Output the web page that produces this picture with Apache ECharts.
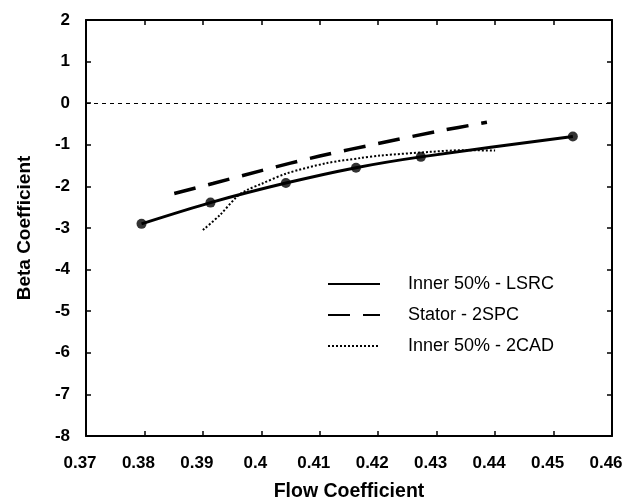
<!DOCTYPE html>
<html>
<head>
<meta charset="utf-8">
<script src="https://cdn.jsdelivr.net/npm/echarts@6/dist/echarts.min.js"></script>
<style>html,body{margin:0;padding:0;background:#fff;}#c{width:631px;height:502px;}</style>
</head>
<body>
<div id="c"></div>
<script>
const flowLSRC = [0.3795, 0.3913, 0.4042, 0.4162, 0.4273, 0.4533];
const betaLSRC = [-2.90, -2.39, -1.92, -1.55, -1.29, -0.80];
const flowStator = [0.3851, 0.3917, 0.4000, 0.4100, 0.4200, 0.4300, 0.4386];
const betaStator = [-2.17, -1.93, -1.62, -1.27, -0.97, -0.68, -0.46];
const flow2CAD = [0.3900, 0.3929, 0.3958, 0.3975, 0.4000, 0.4043, 0.4112, 0.4169, 0.4203, 0.4289, 0.4346, 0.4400];
const beta2CAD = [-3.05, -2.69, -2.25, -2.09, -1.94, -1.69, -1.44, -1.32, -1.26, -1.17, -1.13, -1.14];
const names = ['Inner 50% - LSRC', 'Stator - 2SPC', 'Inner 50% - 2CAD'];
const xTitle = 'Flow Coefficient';
const yTitle = 'Beta Coefficient';

const zip = (a, b) => a.map((v, i) => [v, b[i]]);
const font = '"Liberation Sans", Arial, sans-serif';
const axisCommon = {
  axisLine: { show: true, onZero: false, lineStyle: { color: '#000', width: 2 } },
  axisTick: { show: true, inside: true, length: 5, lineStyle: { color: '#000', width: 1.5 } },
  splitLine: { show: false }
};
const chart = echarts.init(document.getElementById('c'), null, { renderer: 'canvas' });
chart.setOption({
  backgroundColor: '#fff',
  animation: false,
  grid: { left: 86, right: 19, top: 20, bottom: 66, containLabel: false, outerBoundsMode: 'none' },
  xAxis: [
    Object.assign({
      type: 'value', min: 0.37, max: 0.46, interval: 0.01, position: 'bottom',
      name: xTitle, nameLocation: 'middle', nameGap: 46,
      nameTextStyle: { fontFamily: font, fontWeight: 'bold', fontSize: 19.5, color: '#000' },
      axisLabel: { margin: 19, fontFamily: font, fontWeight: 'bold', fontSize: 17, color: '#000',
        padding: [0, 12, 0, 0],
        formatter: v => String(+v.toFixed(2)) }
    }, axisCommon),
    Object.assign({
      type: 'value', min: 0.37, max: 0.46, interval: 0.01, position: 'top',
      axisLabel: { show: false }
    }, axisCommon)
  ],
  yAxis: [
    Object.assign({
      type: 'value', min: -8, max: 2, interval: 1, position: 'left',
      name: yTitle, nameLocation: 'middle', nameGap: 52,
      nameTextStyle: { fontFamily: font, fontWeight: 'bold', fontSize: 19, color: '#000' },
      axisLabel: { margin: 16, fontFamily: font, fontWeight: 'bold', fontSize: 17, color: '#000' }
    }, axisCommon),
    Object.assign({
      type: 'value', min: -8, max: 2, interval: 1, position: 'right',
      axisLabel: { show: false }
    }, axisCommon)
  ],
  legend: {
    data: names,
    orient: 'vertical', left: 322, top: 270,
    itemWidth: 52, itemHeight: 14, itemGap: 13,
    itemStyle: { color: 'rgba(0,0,0,0)', borderColor: 'rgba(0,0,0,0)', borderWidth: 0, opacity: 0 },
    textStyle: { fontFamily: font, fontSize: 18, color: '#000', padding: [0, 0, 0, 23] },
    inactiveColor: '#000'
  },
  series: [
    {
      name: names[0], type: 'line', data: zip(flowLSRC, betaLSRC), smooth: 0.25,
      symbol: 'none', lineStyle: { color: '#000', width: 3 }, itemStyle: { color: '#000' },
      markLine: {
        silent: true, symbol: 'none', label: { show: false },
        lineStyle: { color: '#000', width: 1, type: [4, 4] },
        data: [{ yAxis: 0 }]
      }
    },
    {
      name: names[0] + ' points', type: 'scatter', data: zip(flowLSRC, betaLSRC),
      symbol: 'circle', symbolSize: 10, itemStyle: { color: '#000' }
    },
    {
      name: names[1], type: 'line', data: zip(flowStator, betaStator), smooth: 0.3,
      symbol: 'none', lineStyle: { color: '#000', width: 3.5, type: [22, 13] }, itemStyle: { color: '#000' }
    },
    {
      name: names[2], type: 'line', data: zip(flow2CAD, beta2CAD), smooth: 0.3,
      symbol: 'none', lineStyle: { color: '#000', width: 2, type: [2, 2] }, itemStyle: { color: '#000' }
    }
  ]
});
</script>
</body>
</html>
